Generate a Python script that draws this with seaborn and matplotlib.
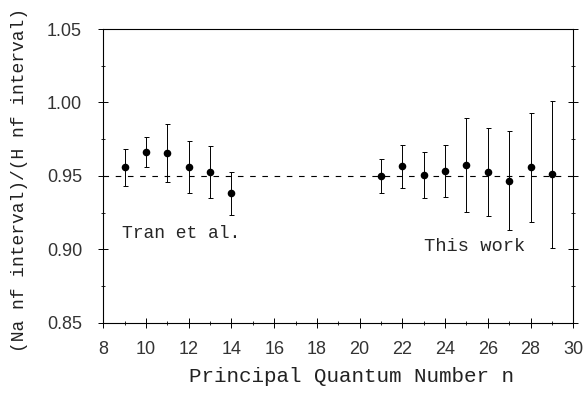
import matplotlib
matplotlib.use("Agg")
import matplotlib.pyplot as plt
import seaborn as sns
import pandas as pd
from matplotlib.ticker import MultipleLocator, FormatStrFormatter

# Data
n_tran = [9, 10, 11, 12, 13, 14]
r_tran = [0.9557, 0.9663, 0.9655, 0.9557, 0.9527, 0.9380]
e_tran = [0.0125, 0.0100, 0.0200, 0.0177, 0.0177, 0.0148]

n_this = [21, 22, 23, 24, 25, 26, 27, 28, 29]
r_this = [0.9496, 0.9564, 0.9505, 0.9534, 0.9575, 0.9527, 0.9466, 0.9558, 0.9510]
e_this = [0.0116, 0.0148, 0.0158, 0.0175, 0.0320, 0.0302, 0.0338, 0.0370, 0.0500]

ref_line = 0.95
xlabel = "Principal Quantum Number n"
ylabel = "(Na nf interval)/(H nf interval)"

df = pd.DataFrame({
    "n": n_tran + n_this,
    "ratio": r_tran + r_this,
    "err": e_tran + e_this,
    "src": ["Tran et al."] * len(n_tran) + ["This work"] * len(n_this),
})

sns.set_style("ticks")
plt.rcParams["font.family"] = ["Liberation Mono", "DejaVu Sans Mono"]

W, H = 584, 393
L, R, B, T = 103.3, 573.3, 322.7, 29.0
fig = plt.figure(figsize=(W / 100, H / 100), dpi=100)
ax = fig.add_axes([L / W, 1 - B / H, (R - L) / W, (B - T) / H])

ax.axhline(ref_line, color="black", lw=0.8, ls=(0, (5, 6)), zorder=1)
ax.errorbar(df["n"], df["ratio"], yerr=df["err"], fmt="none", ecolor="black",
            elinewidth=0.7, capsize=1.8, capthick=0.7, zorder=2)
sns.scatterplot(data=df, x="n", y="ratio", color="black", s=30,
                edgecolor="black", linewidth=0, legend=False, ax=ax, zorder=3)

ax.set_xlim(8, 30)
ax.set_ylim(0.85, 1.05)
ax.xaxis.set_major_locator(MultipleLocator(2))
ax.xaxis.set_minor_locator(MultipleLocator(1))
ax.yaxis.set_major_locator(MultipleLocator(0.05))
ax.yaxis.set_minor_locator(MultipleLocator(0.025))
ax.yaxis.set_major_formatter(FormatStrFormatter("%.2f"))

ax.tick_params(which="major", direction="inout", length=6.5, width=0.7,
               right=True, colors="black", labelcolor="#333333")
ax.tick_params(axis="x", which="major", pad=10)
ax.tick_params(axis="y", which="major", pad=12)
ax.tick_params(which="minor", direction="inout", length=3.5, width=0.7, right=True)
for lab in ax.get_xticklabels() + ax.get_yticklabels():
    lab.set_fontfamily("Liberation Sans")
    lab.set_fontsize(13)
for sp in ax.spines.values():
    sp.set_visible(True)
    sp.set_linewidth(0.8)
    sp.set_color("black")

ax.set_xlabel(xlabel, fontsize=15, color="#222222")
ax.set_ylabel(ylabel, fontsize=13, color="#222222")
ax.xaxis.label.set_va("baseline")
ax.yaxis.label.set_va("center")
ax.xaxis.set_label_coords((351.5 - L) / (R - L), (B - 382) / (B - T))
ax.yaxis.set_label_coords((19.5 - L) / (R - L), (B - 179.5) / (B - T))

ax.text(8.875, 0.908, "Tran et al.", fontsize=13, va="baseline", ha="left")
ax.text(23.01, 0.8989, "This work", fontsize=13.5, va="baseline", ha="left")

fig.savefig("out.png", dpi=100)
